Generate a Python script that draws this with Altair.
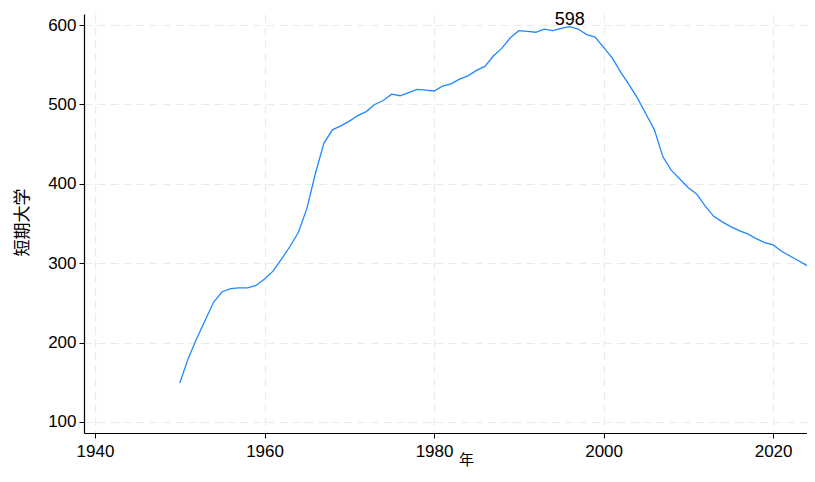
import altair as alt
import pandas as pd

years = list(range(1950, 2026))
colleges = [
    149, 180, 205, 228, 251, 264, 268, 269, 269, 272,
    280, 290, 305, 321, 339, 369, 413, 451, 468, 473,
    479, 486, 491, 500, 505, 513, 511, 515, 519, 518,
    517, 523, 526, 532, 536, 543, 548, 561, 571, 584,
    593, 592, 591, 595, 593, 596, 598, 595, 588, 585,
    572, 559, 541, 525, 508, 488, 468, 434, 417, 406,
    395, 387, 372, 359, 352, 346, 341, 337, 331, 326,
    323, 315, 309, 303, 297, 292,
]
x_ticks = [1940, 1960, 1980, 2000, 2020]
y_ticks = [100, 200, 300, 400, 500, 600]

df = pd.DataFrame({"年": years, "短期大学": colleges})
peak = df[df["短期大学"] == df["短期大学"].max()]

FONT = "Liberation Sans, Arial, sans-serif"
CJK = "Noto Sans CJK JP"

# plot spans 723 px; 8.475 px per year, axis starts at 1938.7
x_enc = alt.X(
    "年:Q",
    scale=alt.Scale(domain=[1938.7, 2024.0], nice=False, zero=False),
    axis=alt.Axis(
        values=x_ticks, format="d", title="年", titleFont=CJK,
        titleFontSize=15, titleFontWeight="normal", titleColor="black",
        titleBaseline="bottom", titleY=34, titleX=382,
    ),
)
y_enc = alt.Y(
    "短期大学:Q",
    scale=alt.Scale(domain=[86, 614], nice=False, zero=False),
    axis=alt.Axis(
        values=y_ticks, title="短期大学", titleFont=CJK,
        titleFontSize=17, titleFontWeight="normal", titleColor="black",
        titleX=-62, titleY=208, titleAngle=-90, titleBaseline="middle",
        titleAlign="center",
    ),
)

line = alt.Chart(df).mark_line(color="#1E88FF", strokeWidth=1.3, clip=True).encode(
    x=x_enc, y=y_enc
)
label = alt.Chart(peak).mark_text(
    font=FONT, fontSize=18, color="black", baseline="alphabetic", dy=-2
).encode(x="年:Q", y="短期大学:Q", text="短期大学:Q")

chart = (
    alt.layer(line, label)
    .properties(
        width=723, height=419,
        autosize=alt.AutoSizeParams(type="none"),
        padding={"left": 76, "top": 6, "right": 0, "bottom": 34},
    )
    .configure_view(stroke=None)
    .configure_axis(
        labelFont=FONT, labelFontSize=17, labelColor="black",
        domainColor="black", domainWidth=1.2, tickColor="black",
        tickSize=5, tickWidth=1, grid=True, gridColor="#ebebeb",
        gridDash=[8, 5], gridWidth=1.2,
    )
    .configure_axisX(labelPadding=5)
    .configure_axisY(labelPadding=3)
)

chart.save("out.html", embed_options={"renderer": "svg", "actions": False})
